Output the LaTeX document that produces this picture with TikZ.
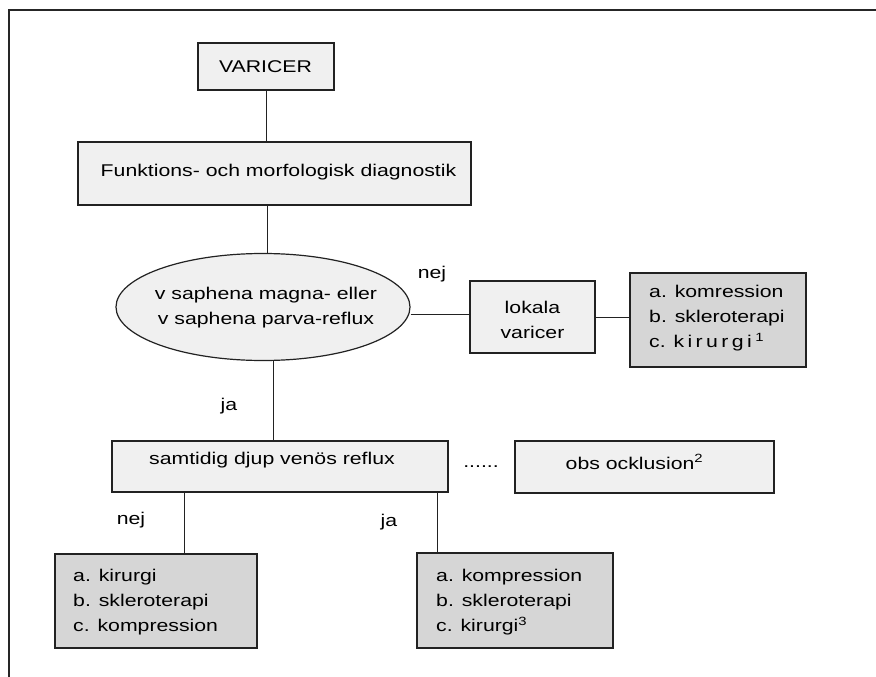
\documentclass[tikz,border=0pt]{standalone}
\usepackage{fontspec}
\setmainfont{Liberation Sans}[FakeStretch=1.25]
\usetikzlibrary{shapes.geometric}
\definecolor{lightfill}{HTML}{F0F0F0}
\definecolor{grayfill}{HTML}{D6D6D6}
\definecolor{edge}{HTML}{222222}
\newcommand{\ls}{\hspace{0.2em}}
\begin{document}
\begin{tikzpicture}[x=1pt,y=-1pt,
  lightbox/.style={draw=edge, line width=1.2pt, fill=lightfill, inner sep=0pt},
  graybox/.style={draw=edge, line width=1.2pt, fill=grayfill, inner sep=0pt},
  txt/.style={inner sep=0pt, font=\fontsize{17}{25}\selectfont, text=black},
  conn/.style={draw=edge, line width=1pt}]
\useasboundingbox (0,0) rectangle (876,677);
\draw[line width=1.5pt, draw=black!85] (9,677) -- (9,10) -- (876,10);

% boxes
\node[lightbox, minimum width=136pt, minimum height=47pt] (var) at (266,66.5) {};
\node[txt] (vart) at (265.5,67) {VARICER};
\node[lightbox, minimum width=393pt, minimum height=63pt] (fun) at (274.5,173.5) {};
\node[txt] (funt) at (278.5,172) {Funktions- och morfologisk diagnostik};
\node[ellipse, draw=edge, line width=1.2pt, fill=lightfill, minimum width=294pt, minimum height=107pt, inner sep=0pt] (ell) at (263,307) {};
\node[txt, align=center] (ellt) at (266,308) {v saphena magna- eller\\v saphena parva-reflux};
\node[lightbox, minimum width=125pt, minimum height=72pt] (lok) at (532.5,317) {};
\node[txt, align=center] (lokt) at (532.5,319.5) {lokala\\varicer};
\node[graybox, minimum width=176pt, minimum height=94pt] (g1) at (718,320) {};
\node[txt, align=left, anchor=west] (g1t) at (649,318) {a. komression\\b. skleroterapi\\c. k\ls i\ls r\ls u\ls r\ls g\ls i\ls\textsuperscript{1}};
\node[lightbox, minimum width=336pt, minimum height=51pt] (samt) at (280,466.5) {};
\node[txt] (samtt) at (272,460) {samtidig djup venös reflux};
\node[lightbox, minimum width=259pt, minimum height=52pt] (obs) at (644.5,467) {};
\node[txt] (obst) at (634.5,462) {obs ocklusion\textsuperscript{2}};
\node[txt, anchor=base] (dots) at (481,467) {......};
\node[graybox, minimum width=202pt, minimum height=94pt] (g2) at (156,601) {};
\node[txt, align=left, anchor=west] (g2t) at (73,602) {a. kirurgi\\b. skleroterapi\\c. kompression};
\node[graybox, minimum width=196pt, minimum height=95pt] (g3) at (515,600.5) {};
\node[txt, align=left, anchor=west] (g3t) at (436,602) {a. kompression\\b. skleroterapi\\c. kirurgi\textsuperscript{3}};

% labels
\node[txt] (l1) at (432,274) {nej};
\node[txt] (l2) at (229,406) {ja};
\node[txt] (l3) at (131,520) {nej};
\node[txt] (l4) at (389,522) {ja};

% connectors
\coordinate (cA) at (267,0);
\coordinate (cB) at (273,0);
\coordinate (cC) at (184,0);
\coordinate (cD) at (437,0);
\draw[conn] (var.south) -- (var.south |- fun.north);
\draw[conn] (fun.south -| cA) -- (ell.north -| cA);
\draw[conn] (samt.north -| cB) -- (ell.south -| cB);
\draw[conn] ([yshift=-7pt]ell.east) -- ([yshift=-7pt]ell.east -| lok.west);
\draw[conn] (lok.east) -- (lok.east -| g1.west);
\draw[conn] (samt.south -| cC) -- (g2.north -| cC);
\draw[conn] (samt.south -| cD) -- (g3.north -| cD);
\end{tikzpicture}
\end{document}
